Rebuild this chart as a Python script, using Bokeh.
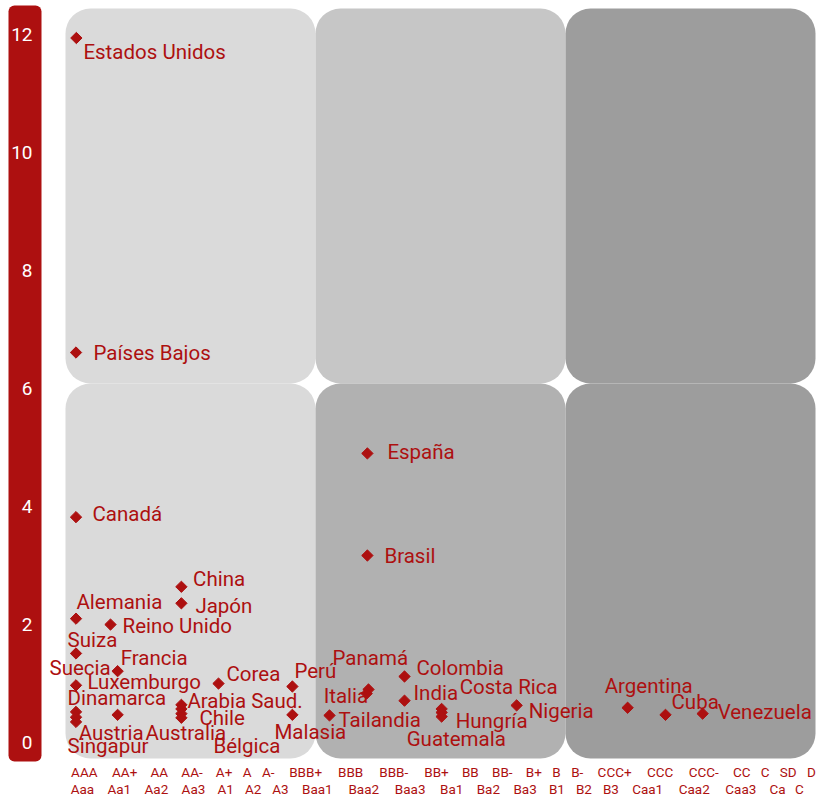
import math
from bokeh.plotting import figure
from bokeh.models import Range1d, LinearAxis, FixedTicker, ColumnDataSource
from bokeh.core.properties import value
from bokeh.embed import file_html
from bokeh.resources import INLINE

# ---------------- data ----------------
countries = ["Estados Unidos", "Países Bajos", "Canadá", "Alemania", "Reino Unido",
             "Suiza", "Francia", "Luxemburgo", "Suecia", "Dinamarca", "Singapur",
             "Austria", "China", "Japón", "Arabia Saud.", "Bélgica", "Chile",
             "Australia", "Corea", "Perú", "Malasia", "Tailandia", "Panamá",
             "Italia", "España", "Brasil", "Colombia", "India", "Costa Rica",
             "Hungría", "Guatemala", "Nigeria", "Argentina", "Cuba", "Venezuela"]
rating_score = [0.29, 0.28, 0.28, 0.28, 1.20,
                0.28, 1.39, 0.28, 0.28, 0.28, 0.28,
                1.39, 3.09, 3.09, 3.09, 3.09, 3.09,
                3.09, 4.08, 6.05, 6.05, 7.04, 8.08,
                8.03, 8.05, 8.05, 9.04, 9.04, 10.03,
                10.03, 10.03, 12.03, 14.99, 16.00, 16.99]
indicator = [11.94, 6.61, 3.82, 2.10, 2.00,
             1.51, 1.21, 0.97, 0.52, 0.43, 0.35,
             0.47, 2.64, 2.36, 0.64, 0.57, 0.49,
             0.42, 1.00, 0.95, 0.47, 0.46, 0.90,
             0.83, 4.90, 3.17, 1.12, 0.71, 0.57,
             0.51, 0.44, 0.63, 0.59, 0.47, 0.49]

sp_scale = ["AAA", "AA+", "AA", "AA-", "A+", "A", "A-", "BBB+", "BBB", "BBB-",
            "BB+", "BB", "BB-", "B+", "B", "B-", "CCC+", "CCC", "CCC-", "CC",
            "C", "SD", "D"]
moodys_scale = ["Aaa", "Aa1", "Aa2", "Aa3", "A1", "A2", "A3", "Baa1", "Baa2",
                "Baa3", "Ba1", "Ba2", "Ba3", "B1", "B2", "B3", "Caa1", "Caa2",
                "Caa3", "Ca", "C"]
y_ticks = [0, 2, 4, 6, 8, 10, 12]

# label offsets (px) for the country names, relative to each marker
label_dx = [7, 17.5, 16.5, 0.5, 12, -8.5, 3, 11.5, -26.5, -8.5, -8.5,
            -39, 11.7, 14, 6, 32, 18, -36, 8, 2, -18, 9, -36,
            -43, 20, 17, 12, 9, 18, 14, -35, 12, -23, 6, 15]
label_dy = [13.7, 0, -2.7, -16.6, 1.7, -13.7, -12.7, -3, -43.5, -19.5, 24.5,
            18, -8, 3, -4, 37.5, 4, 15.5, -10, -16, 17, 5, -31,
            2, -1, 0, -8, -8, -21.5, 9, 22, 6, -22, -13, -2]

# ---------------- layout ----------------
RED = "#ad1010"
W, H = 817, 796
FL, FT, FW, FH = 65, 8, 750, 750
XLO, XHI = 0.0, 20.0
YLO, YHI = -0.27, 12.44
sx = FW / (XHI - XLO)
sy = FH / (YHI - YLO)
x_range = Range1d(XLO - FL / sx, XLO + (W - FL) / sx)
y_range = Range1d(YLO - (H - FT - FH) / sy, YHI + FT / sy)


def px_x(px):
    return x_range.start + px / sx


def px_y(py):
    return y_range.end - py / sy


p = figure(width=W, height=H, x_range=x_range, y_range=y_range,
           x_axis_type=None, y_axis_type=None, toolbar_location=None,
           output_backend="svg", min_border=0, outline_line_color=None,
           background_fill_color="white", border_fill_color="white")
p.min_border_left = p.min_border_right = p.min_border_top = p.min_border_bottom = 0

# background panels (3 columns x 2 rows)
panel_colors = ["#dadada", "#c6c6c6", "#9d9d9d",
                "#dadada", "#b1b1b1", "#9d9d9d"]
xs_edges = [XLO + i * (XHI - XLO) / 3 for i in range(4)]
ymid = (YLO + YHI) / 2
ys_edges = [(ymid, YHI), (YLO, ymid)]
pl, pr, pt, pb = [], [], [], []
for r in range(2):
    for c in range(3):
        pl.append(xs_edges[c]); pr.append(xs_edges[c + 1])
        pb.append(ys_edges[r][0]); pt.append(ys_edges[r][1])
p.quad(left=pl, right=pr, top=pt, bottom=pb, fill_color=panel_colors,
       line_color=None, border_radius=25)

# red y-axis band
p.quad(left=[px_x(8)], right=[px_x(41)], top=[px_y(5)], bottom=[px_y(761)],
       fill_color=RED, line_color=None, border_radius=6)

yaxis = LinearAxis(fixed_location=px_x(38),
                   ticker=FixedTicker(ticks=y_ticks),
                   major_label_text_color="white",
                   major_label_text_font="Roboto",
                   major_label_text_font_size="19px",
                   axis_line_color=None, major_tick_line_color=None,
                   minor_tick_line_color=None, major_label_standoff=0)
p.add_layout(yaxis, "left")

# points + labels
src = ColumnDataSource(dict(x=rating_score, y=indicator, name=countries,
                            dx=label_dx, dy=label_dy))
p.scatter("x", "y", source=src, marker="square", size=8, angle=math.pi / 4,
          fill_color=RED, line_color=RED)
p.text("x", "y", text="name", source=src, x_offset="dx", y_offset="dy",
       text_align="left", text_baseline="middle", text_font=value("Roboto"),
       text_font_size="20.5px", text_color=RED)

# rating scale rows under the chart (letter-spaced look)
ADV = {' ': 507, '+': 1134, '-': 553, 'A': 1336, 'B': 1276, 'C': 1302,
       'D': 1314, 'S': 1218, 'a': 1088, '1': 1150, '2': 1150, '3': 1150}
FS = 13.0


def row_centers(tokens, start_px, end_px):
    chars = " ".join(tokens)
    adv = sum(ADV.get(ch, 1150) * FS / 2048 for ch in chars)
    ls = (end_px - start_px - adv) / (len(chars) - 1)
    x = start_px
    out = []
    for tok in tokens:
        w = sum(ADV.get(ch, 1150) * FS / 2048 for ch in tok) + ls * len(tok)
        out.append(x + (w - ls) / 2)
        x += w + ADV[' '] * FS / 2048 + ls
    return out


for tokens, end_px, cy in ((sp_scale, 815, 771.5), (moodys_scale, 803, 788)):
    cx = row_centers(tokens, 68, end_px)
    p.text([px_x(c) for c in cx], [px_y(cy)] * len(tokens),
           text=tokens, text_align="center", text_baseline="middle",
           text_font=value("Roboto"), text_font_size="13.5px", text_color=RED)

open("out.html", "w").write(file_html(p, INLINE))
